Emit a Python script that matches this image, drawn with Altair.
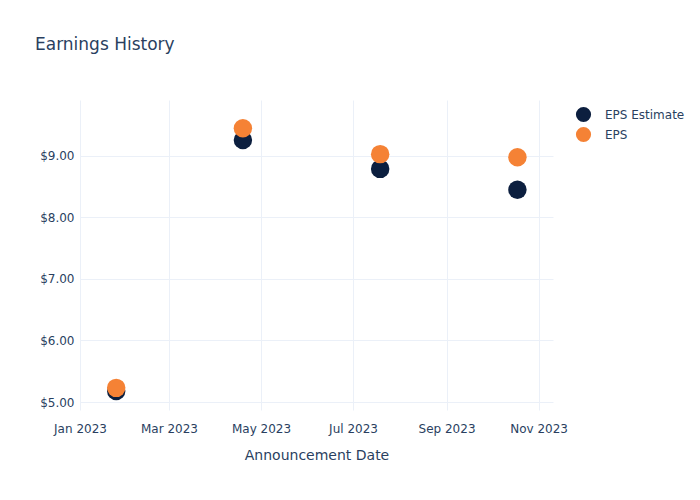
import altair as alt
import pandas as pd

dates = ["2023-01-25", "2023-04-19", "2023-07-19", "2023-10-18"]
eps_estimate = [5.18, 9.26, 8.79, 8.45]
eps_actual = [5.23, 9.45, 9.03, 8.98]
series_names = ["EPS Estimate", "EPS"]
series_colors = ["#0c1f3f", "#f58235"]

rows = []
for d, v in zip(dates, eps_estimate):
    rows.append({"date": d, "value": v, "series": "EPS Estimate", "k": 0})
for d, v in zip(dates, eps_actual):
    rows.append({"date": d, "value": v, "series": "EPS", "k": 1})
df = pd.DataFrame(rows)

text_color = "#2a3f5f"
grid_color = "#ebf0f8"
font = "DejaVu Sans"

chart = alt.Chart(df).mark_circle(size=340, opacity=1).encode(
    x=alt.X(
        "date:T",
        scale=alt.Scale(
            type="utc",
            domain=[alt.DateTime(year=2023, month=1, date=1, utc=True),
                    alt.DateTime(year=2023, month=11, date=10, hours=14, utc=True)],
            nice=False,
        ),
        axis=alt.Axis(
            title="Announcement Date",
            labelExpr="utcFormat(datum.value, '%b %Y')",
            tickCount={"interval": "month", "step": 2},
            domain=False,
            ticks=False,
            grid=True,
            gridColor=grid_color,
            labelColor=text_color,
            labelFont=font,
            labelFontSize=12,
            labelPadding=13,
            titleColor=text_color,
            titleFont=font,
            titleFontSize=14,
            titleFontWeight="normal",
            titlePadding=14,
            labelFlush=False,
        ),
    ),
    y=alt.Y(
        "value:Q",
        scale=alt.Scale(domain=[4.87, 9.91], nice=False, zero=False),
        axis=alt.Axis(
            title=None,
            format="$.2f",
            values=[5, 6, 7, 8, 9],
            domain=False,
            ticks=False,
            grid=True,
            gridColor=grid_color,
            labelColor=text_color,
            labelFont=font,
            labelFontSize=12,
            labelPadding=6,
        ),
    ),
    color=alt.Color(
        "series:N",
        scale=alt.Scale(domain=series_names, range=series_colors),
        legend=alt.Legend(
            title=None,
            orient="none",
            legendX=495,
            legendY=6,
            padding=0,
            symbolType="circle",
            symbolSize=230,
            symbolOpacity=1,
            labelColor=text_color,
            labelFont=font,
            labelFontSize=12,
            labelOffset=13,
            rowPadding=3,
        ),
    ),
    order=alt.Order("k:Q"),
).properties(
    width=473,
    height=310,
    padding={"left": 80, "top": 100, "right": 147, "bottom": 90},
    autosize=alt.AutoSizeParams(type="none"),
    background="white",
    title=alt.TitleParams(
        "Earnings History",
        anchor="start",
        dx=-45,
        offset=46,
        fontSize=17,
        font=font,
        fontWeight="normal",
        color=text_color,
        frame="group",
    ),
).configure_view(stroke=None)

chart.save("out.html", embed_options={"renderer": "svg", "actions": False})
